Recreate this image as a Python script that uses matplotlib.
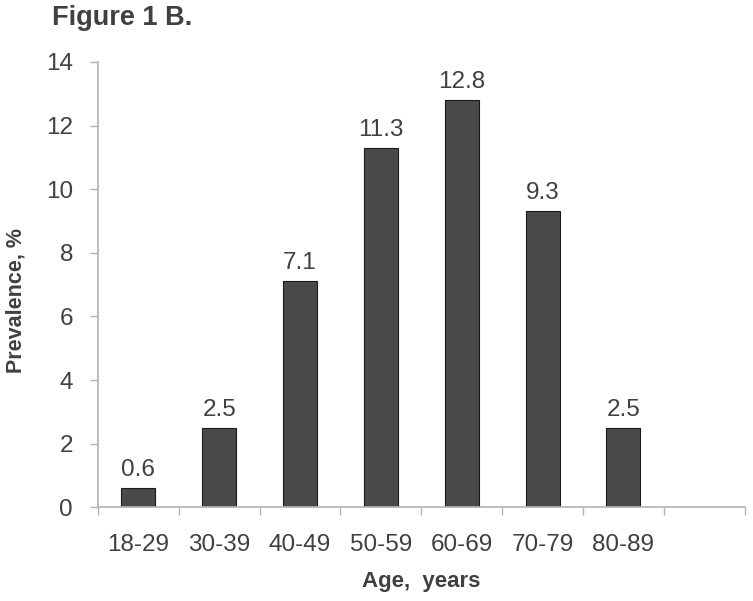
import numpy as np
from matplotlib import pyplot as plt

ages = ["18-29", "30-39", "40-49", "50-59", "60-69", "70-79", "80-89"]
prevalence = [0.6, 2.5, 7.1, 11.3, 12.8, 9.3, 2.5]
yticks = [0, 2, 4, 6, 8, 10, 12, 14]

text_col = "#404040"
axis_col = "#b3b3b3"

plt.rcParams["font.family"] = ["Liberation Sans", "DejaVu Sans"]

fig = plt.figure(figsize=(7.53, 6.01), dpi=100)
ax = fig.add_axes([0.130, 0.156, 0.859, 0.741])

x = np.arange(len(ages))
bars = ax.bar(x, prevalence, width=0.42, color="#4a4a4a", edgecolor="#1a1a1a", linewidth=0.8)
for b, v in zip(bars, prevalence):
	ax.annotate(f"{v}", (b.get_x() + b.get_width() / 2, v), xytext=(0, 5),
		textcoords="offset points", ha="center", va="bottom", fontsize=17.5, color=text_col)

# 8 slots, the last one is empty like the original
ax.set_xlim(-0.5, 7.5)
ax.set_ylim(0, 14)
ax.set_yticks(yticks)
ax.set_yticklabels([str(t) for t in yticks])
ax.set_xticks(x)
ax.set_xticklabels(ages)
ax.set_xticks(np.arange(-0.5, 8.0, 1.0), minor=True)

for s in ["top", "right"]:
	ax.spines[s].set_visible(False)
for s in ["left", "bottom"]:
	ax.spines[s].set_color(axis_col)
	ax.spines[s].set_linewidth(1.2)

ax.tick_params(axis="y", direction="out", length=6, width=1, color=axis_col,
	labelsize=17.5, labelcolor=text_col, pad=12)
ax.tick_params(axis="x", which="major", length=0, labelsize=17.5, labelcolor=text_col, pad=19)
ax.tick_params(axis="x", which="minor", direction="out", length=6, width=1, color=axis_col)

ax.set_ylabel("Prevalence, %", fontsize=15.5, fontweight="bold", color=text_col, va="center")
ax.yaxis.set_label_coords(-0.127, 0.465)
ax.set_xlabel("Age,  years", fontsize=16, fontweight="bold", color=text_col, va="center")
ax.xaxis.set_label_coords(0.5, -0.166)

fig.text(0.069, 0.970, "Figure 1 B.", fontsize=19.5, fontweight="bold", color=text_col,
	ha="left", va="center")

fig.savefig("out.png", dpi=100)
